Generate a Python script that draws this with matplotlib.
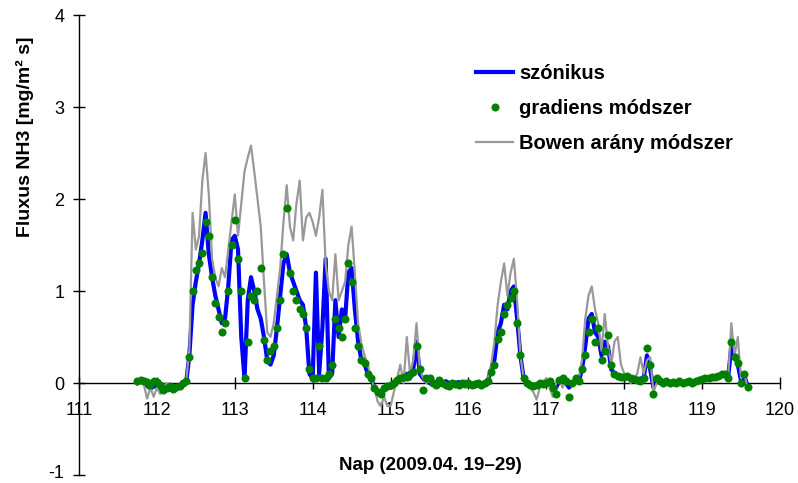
import matplotlib
matplotlib.use('Agg')
import matplotlib.pyplot as plt
import matplotlib.transforms as mtransforms
import numpy as np

plt.rcParams['font.family'] = ['Liberation Sans', 'DejaVu Sans']
plt.rcParams['axes.unicode_minus'] = False

# =============== data (hourly values, day 111.75 .. 119.58) ===============
# szónikus (blue line)
szon_111 = [0.0, 0.02, 0.0, -0.03, -0.06, -0.04]
szon_112 = [-0.03, -0.06, -0.04, -0.02, -0.05, -0.04, -0.03, -0.02, -0.01, 0.0, 0.3, 0.85,
            1.1, 1.3, 1.55, 1.85, 1.4, 1.15, 0.95, 0.8, 0.65, 0.7, 1.05, 1.55]
szon_113 = [1.6, 1.45, 0.5, 0.05, 0.9, 1.15, 1.0, 0.8, 0.7, 0.5, 0.25, 0.2,
            0.3, 0.6, 0.95, 1.3, 1.4, 1.2, 1.1, 1.0, 0.9, 0.85, 0.6, 0.1]
szon_114 = [0.05, 1.2, 0.1, 0.6, 1.35, 0.05, 0.1, 0.9, 0.5, 0.8, 0.7, 1.2,
            1.25, 0.8, 0.45, 0.25, 0.2, 0.1, 0.05, -0.05, -0.08, -0.1, -0.08, -0.05]
szon_115 = [-0.05, 0.0, 0.02, 0.05, 0.03, 0.1, 0.05, 0.15, 0.45, 0.1, 0.05, 0.02,
            0.0, -0.02, 0.01, 0.0, -0.01, 0.02, 0.0, -0.02, 0.0, 0.01, -0.01, 0.0]
szon_116 = [0.0, -0.01, 0.0, 0.01, -0.01, 0.0, 0.03, 0.15, 0.25, 0.55, 0.65, 0.85,
            0.8, 1.0, 1.05, 0.7, 0.3, 0.05, 0.0, -0.02, -0.03, -0.02, 0.0, 0.0]
szon_117 = [0.0, 0.01, -0.03, -0.05, 0.02, 0.03, 0.0, -0.05, 0.0, 0.03, 0.02, 0.15,
            0.4, 0.7, 0.75, 0.55, 0.5, 0.3, 0.45, 0.4, 0.15, 0.1, 0.07, 0.06]
szon_118 = [0.06, 0.07, 0.04, 0.04, 0.03, 0.05, 0.05, 0.3, 0.15, -0.05, 0.03, 0.02,
            0.0, 0.01, 0.0, 0.01, 0.0, 0.02, 0.0, 0.01, 0.02, 0.0, 0.02, 0.03]
szon_119 = [0.04, 0.05, 0.05, 0.05, 0.06, 0.08, 0.09, 0.08, 0.05, 0.4, 0.3, 0.2, 0.02, 0.08, -0.03]

# gradiens módszer (green dots)
grad_111 = [0.02, 0.03, 0.02, 0.01, -0.02, 0.02]
grad_112 = [0.01, -0.02, -0.08, -0.05, -0.03, -0.06, -0.04, -0.03, 0.0, 0.02, 0.28, 1.0,
            1.23, 1.3, 1.41, 1.75, 1.6, 1.15, 0.87, 0.72, 0.55, 0.65, 1.0, 1.5]
grad_113 = [1.77, 1.35, 1.0, 0.05, 0.45, 0.95, 0.9, 1.0, 1.25, 0.47, 0.25, 0.35,
            0.4, 0.6, 0.9, 1.4, 1.9, 1.2, 1.0, 0.9, 0.8, 0.75, 0.6, 0.15]
grad_114 = [0.05, 0.05, 0.4, 0.05, 0.05, 0.1, 0.2, 0.7, 0.6, 0.5, 0.7, 1.3,
            1.1, 0.6, 0.4, 0.25, 0.22, 0.1, 0.05, -0.05, -0.1, -0.12, -0.05, -0.03]
grad_115 = [-0.02, 0.0, 0.03, 0.05, 0.06, 0.07, 0.1, 0.12, 0.4, 0.15, -0.08, 0.05,
            0.05, 0.0, -0.02, 0.03, 0.0, -0.02, -0.03, 0.0, -0.01, -0.02, 0.0, -0.01]
grad_116 = [0.0, -0.02, -0.01, 0.0, -0.02, 0.0, 0.02, 0.12, 0.2, 0.48, 0.55, 0.75,
            0.85, 0.92, 1.0, 0.65, 0.3, 0.05, 0.0, -0.02, -0.03, -0.02, 0.0, -0.01]
grad_117 = [0.0, 0.02, -0.05, -0.12, 0.03, 0.05, 0.02, -0.15, 0.0, 0.05, 0.02, 0.15,
            0.3, 0.55, 0.7, 0.45, 0.6, 0.25, 0.35, 0.52, 0.2, 0.1, 0.08, 0.07]
grad_118 = [0.06, 0.08, 0.05, 0.04, 0.03, 0.02, 0.05, 0.38, 0.2, -0.12, 0.05, 0.02,
            0.0, 0.02, 0.0, 0.01, 0.0, 0.02, 0.0, 0.01, 0.02, 0.0, 0.02, 0.03]
grad_119 = [0.04, 0.05, 0.05, 0.06, 0.07, 0.08, 0.1, 0.1, 0.05, 0.45, 0.28, 0.22, 0.0, 0.1, -0.04]

# Bowen arány módszer (grey line)
bowen_111 = [0.0, 0.02, -0.02, -0.17, -0.05, -0.15]
bowen_112 = [-0.05, -0.12, -0.05, 0.0, -0.05, -0.06, -0.03, -0.05, 0.0, 0.02, 0.35, 1.85,
             1.45, 1.6, 2.2, 2.5, 2.05, 1.35, 1.15, 1.05, 1.25, 1.15, 1.45, 1.75]
bowen_113 = [2.05, 1.6, 1.95, 2.3, 2.45, 2.58, 2.3, 2.0, 1.7, 1.1, 0.55, 0.5,
             0.65, 0.95, 1.25, 1.75, 2.15, 1.7, 1.55, 1.95, 2.2, 1.55, 1.8, 1.85]
bowen_114 = [1.75, 1.6, 1.8, 2.1, 1.3, 1.0, 0.9, 1.4, 0.9, 1.0, 1.1, 1.5,
             1.7, 1.2, 0.65, 0.43, 0.3, 0.2, 0.05, -0.05, -0.2, -0.25, -0.15, -0.25]
bowen_115 = [-0.25, -0.1, 0.05, 0.2, 0.0, 0.5, 0.1, 0.25, 0.65, 0.15, 0.05, 0.0,
             0.02, -0.03, 0.0, 0.02, -0.02, 0.0, -0.03, 0.0, 0.02, -0.02, 0.0, 0.03]
bowen_116 = [0.0, 0.0, -0.05, 0.0, -0.02, 0.0, 0.05, 0.2, 0.45, 0.85, 1.1, 1.3,
             0.95, 1.2, 1.35, 0.9, 0.3, 0.05, 0.0, -0.05, -0.1, -0.18, -0.05, 0.02]
bowen_117 = [0.05, -0.05, -0.15, 0.0, 0.05, -0.05, 0.05, 0.0, 0.02, 0.0, 0.05, 0.25,
             0.7, 0.95, 1.05, 0.8, 0.65, 0.35, 0.75, 0.4, 0.2, 0.45, 0.5, 0.2]
bowen_118 = [0.1, 0.05, 0.0, 0.05, 0.1, 0.28, 0.1, 0.25, 0.28, -0.1, 0.0, 0.03,
             -0.02, 0.0, 0.02, -0.02, 0.0, 0.01, -0.02, 0.0, 0.02, -0.01, 0.0, 0.02]
bowen_119 = [0.03, 0.05, 0.04, 0.06, 0.05, 0.08, 0.1, 0.08, 0.05, 0.65, 0.3, 0.5, 0.05, 0.1, -0.05]

szonikus = np.concatenate([szon_111, szon_112, szon_113, szon_114, szon_115,
                           szon_116, szon_117, szon_118, szon_119])
gradiens = np.concatenate([grad_111, grad_112, grad_113, grad_114, grad_115,
                           grad_116, grad_117, grad_118, grad_119])
bowen = np.concatenate([bowen_111, bowen_112, bowen_113, bowen_114, bowen_115,
                        bowen_116, bowen_117, bowen_118, bowen_119])

# hourly time axis in day-of-year
t_start = 111.75
nap = t_start + np.arange(len(bowen)) / 24.0

# =============== plot ===============
fig = plt.figure(figsize=(7.98, 4.83), dpi=100)
ax = fig.add_axes([79 / 798, 8 / 483, 701 / 798, 460 / 483])

ax.plot(nap, szonikus, color='#0000ff', lw=3.0, label='szónikus', zorder=2)
ax.plot(nap, gradiens, ls='none', marker='o', ms=5.8, color='#008000',
        markeredgewidth=0, label='gradiens módszer', zorder=4)
ax.plot(nap, bowen, color='#999999', lw=1.6, label='Bowen arány módszer', zorder=3)

ax.set_xlim(111, 120)
ax.set_ylim(-1, 4)
ax.set_xticks(np.arange(111, 121, 1))
ax.set_yticks(np.arange(-1, 5, 1))
ax.spines['top'].set_visible(False)
ax.spines['right'].set_visible(False)
ax.spines['bottom'].set_position(('data', 0))
for sp in ax.spines.values():
    sp.set_linewidth(1.0)
    sp.set_color('#000000')
ax.tick_params(direction='inout', length=9, width=1, labelsize=13, colors='black')
ax.tick_params(axis='x', pad=9)
ax.tick_params(axis='y', pad=6)

# nudge the bottom "-1" label up a little so it stays inside the canvas
lab = ax.get_yticklabels()[0]
lab.set_transform(lab.get_transform() +
                  mtransforms.ScaledTranslation(0, 4 / 100, fig.dpi_scale_trans))

# legend order as in original
h, l = ax.get_legend_handles_labels()
ax.legend(h, l, loc='upper left', bbox_to_anchor=(476 / 798, 1 - 64 / 483),
          bbox_transform=fig.transFigure, frameon=False, borderpad=0, borderaxespad=0,
          handlelength=1.84, handletextpad=0.3, labelspacing=0.8, numpoints=1,
          prop={'weight': 'bold', 'size': 14.5})

fig.text(25 / 798, 1 - 137 / 483, 'Fluxus NH3 [mg/m² s]', rotation=90,
         ha='center', va='center', fontsize=14, fontweight='bold')
fig.text(430 / 798, 1 - 465 / 483, 'Nap (2009.04. 19–29)',
         ha='center', va='center', fontsize=13.5, fontweight='bold')

fig.savefig('out.png', dpi=100)
